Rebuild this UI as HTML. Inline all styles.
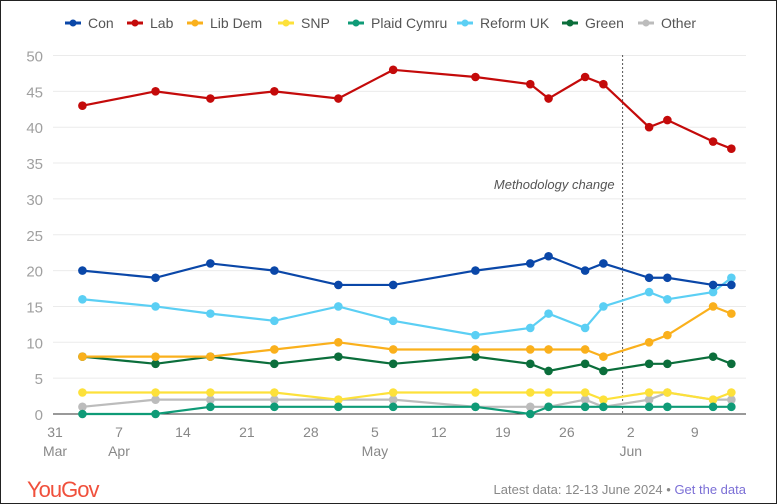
<!DOCTYPE html>
<html><head><meta charset="utf-8"><style>
body{margin:0;background:#fff;}
#wrap{position:relative;width:775px;height:502px;border:1px solid #222;background:#fff;font-family:"Liberation Sans",sans-serif;overflow:hidden}
svg text{font-family:"Liberation Sans",sans-serif}
</style></head><body>
<div id="wrap">
<svg id="chart" width="775" height="502"></svg>
</div>
<script>
const days=[3,11,17,24,31,37,46,52,54,58,60,65,67,72,74];
const seriesNames=["Con","Lab","Lib Dem","SNP","Plaid Cymru","Reform UK","Green","Other"];
const seriesColors=["#0a47a8","#c40a0a","#fab01c","#fde13a","#0f9b77","#5bcff4","#0b6e3b","#bcbcbc"];
const conVals=[20,19,21,20,18,18,20,21,22,20,21,19,19,18,18];
const labVals=[43,45,44,45,44,48,47,46,44,47,46,40,41,38,37];
const ldVals=[8,8,8,9,10,9,9,9,9,9,8,10,11,15,14];
const snpVals=[3,3,3,3,2,3,3,3,3,3,2,3,3,2,3];
const pcVals=[0,0,1,1,1,1,1,0,1,1,1,1,1,1,1];
const refVals=[16,15,14,13,15,13,11,12,14,12,15,17,16,17,19];
const greenVals=[8,7,8,7,8,7,8,7,6,7,6,7,7,8,7];
const otherVals=[1,2,2,2,2,2,1,1,1,2,1,2,3,2,2];
const yTicks=[0,5,10,15,20,25,30,35,40,45,50];
const xTickDays=[0,7,14,21,28,35,42,49,56,63,70];
const xTickLabels=["31","7","14","21","28","5","12","19","26","2","9"];
const xTickSub=["Mar","Apr","","","","May","","","","Jun",""];
const methodDay=62.1;

const NS="http://www.w3.org/2000/svg";
const svg=document.getElementById('chart');
const x=d=>54+d*9.14;
const y=v=>413-v*7.17;
function mk(t,a,p){const e=document.createElementNS(NS,t);for(const k in a)e.setAttribute(k,a[k]);(p||svg).appendChild(e);return e;}

yTicks.forEach(v=>{
  if(v>0){const g=mk('line',{x1:52,x2:745,y1:y(v),y2:y(v),stroke:'#ebebeb','stroke-width':1});
  
  }
  const t=mk('text',{x:42,y:y(v)+6,'text-anchor':'end','font-size':15,fill:'#a0a0a0'});t.textContent=v;
  
  
});
const ax=mk('line',{x1:52,x2:745,y1:y(0),y2:y(0),stroke:'#333','stroke-width':1});


xTickDays.forEach((d,i)=>{
  const t=mk('text',{x:x(d),y:436,'text-anchor':'middle','font-size':14,fill:'#888'});t.textContent=xTickLabels[i];
  
  
  if(xTickSub[i]){const s=mk('text',{x:x(d),y:455,'text-anchor':'middle','font-size':14,fill:'#888'});s.textContent=xTickSub[i];
  
  }
});
const ml=mk('line',{x1:x(methodDay),x2:x(methodDay),y1:54,y2:413,stroke:'#555','stroke-dasharray':'2,2'});


const mt=mk('text',{x:x(methodDay)-8,y:188,'text-anchor':'end','font-size':13,'font-style':'italic',fill:'#555'});mt.textContent='Methodology change';



const allVals=[conVals,labVals,ldVals,snpVals,pcVals,refVals,greenVals,otherVals];
const order=[7,3,4,6,2,5,0,1];
order.forEach(si=>{
  const vals=allVals[si],c=seriesColors[si];
  const g=mk('g',{});
  
  
  mk('polyline',{points:days.map((d,i)=>x(d)+','+y(vals[i])).join(' '),fill:'none',stroke:c,'stroke-width':2.2},g);
  days.forEach((d,i)=>{const p=mk('circle',{cx:x(d),cy:y(vals[i]),r:4.3,fill:c},g);
  
  });
});

const legX=[64,126,186,277,347,456,561,637];
seriesNames.forEach((n,i)=>{
  const lx=legX[i];
  const g=mk('g',{});
  
  
  mk('line',{x1:lx,x2:lx+16,y1:22,y2:22,stroke:seriesColors[i],'stroke-width':3},g);
  mk('circle',{cx:lx+8,cy:22,r:3.5,fill:seriesColors[i]},g);
  const t=mk('text',{x:lx+23,y:27,'font-size':14,fill:'#555'},g);t.textContent=n;
});
const lg=mk('text',{x:26,y:496,'font-size':22,fill:'#f0503c','letter-spacing':'-1'});lg.textContent='YouGov';


const ft=mk('text',{x:745,y:493,'text-anchor':'end','font-size':13,fill:'#888'});


const t1=mk('tspan',{},ft);t1.textContent='Latest data: 12-13 June 2024 • ';
const t2=mk('tspan',{fill:'#7b6fd6'},ft);t2.textContent='Get the data';


</script>
</body></html>
